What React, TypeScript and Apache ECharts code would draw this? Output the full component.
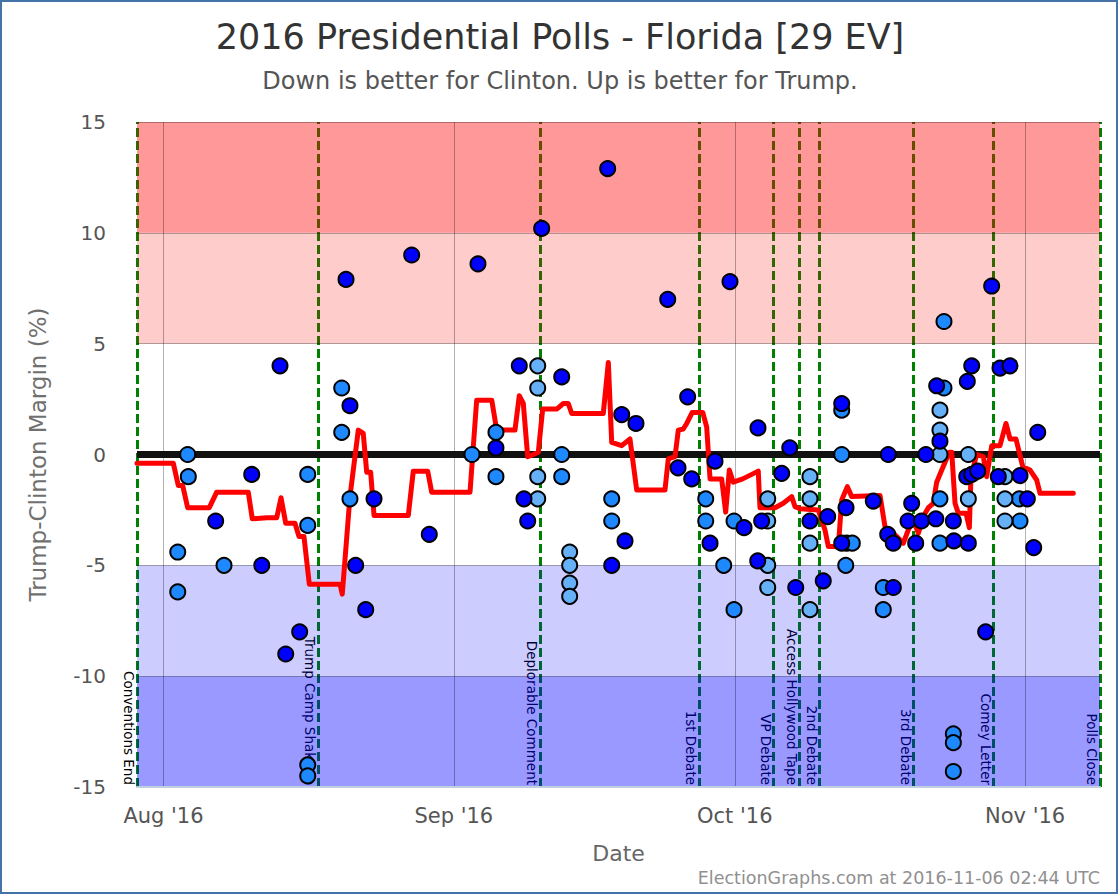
import { useEffect, useRef } from 'react';
import * as echarts from 'echarts';

const FONT = 'DejaVu Sans';
const DAY0 = Date.UTC(2016, 7, 1); // 1 Aug 2016, day offsets below are days after this
const t = (d: number) => DAY0 + d * 86400000;

const titleText = '2016 Presidential Polls - Florida [29 EV]';
const subtitleText = 'Down is better for Clinton. Up is better for Trump.';
const creditText = 'ElectionGraphs.com at 2016-11-06 02:44 UTC';

const monthTickDays = [0, 31, 61, 92];
const monthLabels = ["Aug '16", "Sep '16", "Oct '16", "Nov '16"];
const axisStartDay = -2.83;
const axisEndDay = 100;

const eventNames = ['Conventions End', 'Trump Camp Shakeup', 'Deplorable Comment', '1st Debate', 'VP Debate', 'Access Hollywood Tape', '2nd Debate', '3rd Debate', 'Comey Letter', 'Polls Close'];
const eventDays = [-2.83, 16.5, 40.2, 57.16, 65.16, 67.93, 70.07, 80.11, 88.65, 100];

const bandRanges = [[10, 15], [5, 10], [-10, -5], [-15, -10]];
const bandColors = ['rgba(255,0,0,0.4)', 'rgba(255,0,0,0.2)', 'rgba(0,0,255,0.2)', 'rgba(0,0,255,0.4)'];

// [day after Aug 1, Trump-Clinton margin]
const darkPolls = [
  [12.44, 4], [5.57, -3], [9.42, -0.9], [10.49, -5], [14.54, -8], [13.05, -9], [19.49, 7.9], [19.91, 2.2],
  [22.48, -2], [20.52, -5], [21.59, -7], [26.5, 9], [28.38, -3.6], [33.58, 8.6], [35.5, 0.3], [37.99, 4],
  [38.49, -2], [38.89, -3], [40.38, 10.2], [42.52, 3.5], [47.43, 12.9], [47.86, -5], [48.93, 1.8], [49.28, -3.9],
  [50.45, 1.4], [53.84, 7], [55.97, 2.6], [54.94, -0.6], [56.4, -1.1], [58.89, -0.3], [58.36, -4], [60.49, 7.8],
  [61.99, -3.3], [63.48, 1.2], [63.87, -3], [63.45, -4.8], [66.01, -0.85], [66.87, 0.3], [67.51, -6], [69.03, -3],
  [70.92, -2.8], [70.45, -5.7], [72.42, 2.3], [72.88, -2.4], [72.42, -4], [75.79, -2.1], [77.33, -3.6], [77.93, -4],
  [77.93, -6], [77.39, 0], [79.89, -2.2], [79.5, -3], [80.94, -3], [80.32, -4], [81.41, 0], [82.56, 3.1],
  [82.91, 0.6], [82.47, -2.9], [84.34, -3], [84.4, -3.9], [85.83, 3.3], [86.3, 4], [85.77, -1], [86.3, -0.9],
  [86.94, -0.75], [85.94, -4], [87.79, -8], [88.43, 7.6], [89.32, 3.9], [90.39, 4], [89.14, -1], [91.46, -0.95],
  [92.24, -2], [92.92, -4.2], [93.35, 1],
];
const mediumPolls = [
  [2.58, 0], [2.65, -1], [1.52, -4.4], [1.52, -6.2], [6.46, -5], [15.4, -0.9], [15.4, -3.2], [15.4, -14],
  [15.4, -14.5], [19.03, 3], [19.03, 1], [19.91, -2], [32.94, 0], [35.5, 1], [35.5, -1], [42.52, 0],
  [42.52, -1], [47.86, -2], [47.86, -3], [57.9, -2], [57.9, -3], [59.82, -5], [60.92, -3], [60.92, -7],
  [72.42, 2], [72.42, 0], [72.95, -4], [73.55, -4], [72.85, -5], [76.86, -6], [76.86, -7], [83.34, 3],
  [83.34, 6], [82.91, -2], [82.91, -4], [84.34, -12.6], [84.34, -13], [84.34, -14.3], [91.38, -2], [91.46, -3],
];
const lightPolls = [
  [39.96, 4], [39.96, 3], [39.96, -1], [39.96, -2], [43.37, -4.4], [43.37, -5], [43.37, -5.8], [43.37, -6.4],
  [64.52, -2], [64.52, -3], [64.52, -5], [64.52, -6], [69.03, -1], [69.03, -2], [69.03, -4], [69.03, -7],
  [82.91, 2], [82.91, 1.1], [82.91, 0], [85.94, 0], [85.94, -2], [89.85, -1], [89.85, -2], [89.85, -3],
];
const averageLine = [
  [-2.83, -0.4], [1.05, -0.4], [1.58, -1.4], [2.05, -1.4], [2.58, -2.4], [4.89, -2.4], [5.68, -1.7], [9.05, -1.7],
  [9.48, -2.9], [11.02, -2.85], [12.09, -2.85], [12.55, -1.95], [13.05, -3.1], [14.04, -3.1], [14.47, -3.7], [15.0, -3.7],
  [15.57, -5.85], [18.85, -5.85], [19.09, -6.3], [19.91, -1.9], [20.8, 1.1], [21.33, 0.95], [21.7, -0.8], [22.12, -0.8],
  [22.48, -2.75], [26.14, -2.75], [26.67, -0.75], [28.21, -0.75], [28.64, -1.7], [32.73, -1.7], [33.44, 2.45], [35.05, 2.45],
  [35.58, 1.1], [37.53, 1.1], [37.99, 2.65], [38.42, 2.3], [38.89, -0.1], [39.49, 0], [40.02, 0.1], [40.49, 2.05],
  [41.99, 2.05], [42.69, 2.3], [43.22, 2.3], [43.59, 1.85], [46.96, 1.85], [47.5, 4.15], [47.86, 0.55], [48.93, 0.4],
  [49.81, 0.7], [50.53, -1.6], [53.55, -1.6], [53.9, -0.2], [54.62, -0.1], [54.97, 1.1], [55.5, 1.15], [55.87, 1.4],
  [56.46, 1.9], [57.58, 1.9], [58.0, 1.25], [58.36, -1.1], [59.6, -1.1], [60.03, -2.6], [60.42, -0.7], [60.84, -1.25],
  [61.85, -1.1], [63.51, -0.75], [63.69, -2.4], [65.3, -2.4], [66.18, -2.2], [67.08, -1.9], [67.43, -2.35], [67.97, -2.45],
  [69.92, -2.5], [70.63, -3.4], [70.99, -4.15], [72.06, -4.15], [72.42, -2.05], [73.02, -1.45], [73.49, -1.9], [76.51, -1.85],
  [77.04, -3.25], [77.58, -3.4], [79.0, -4.0], [79.53, -3.4], [80.06, -2.95], [80.6, -3.55], [81.13, -2.8], [81.67, -2.4],
  [82.2, -2.2], [82.56, -1.25], [83.1, -0.7], [83.91, 0.1], [84.17, 0.1], [84.52, -2.2], [84.87, -2.65], [85.69, -2.65],
  [86.05, -3.3], [86.22, -1.0], [86.83, 0], [87.54, -0.1], [87.9, -1.0], [88.44, 0.4], [89.32, 0.4], [89.96, 1.4],
  [90.39, 0.7], [91.03, 0.7], [91.75, -0.55], [92.53, -0.7], [93.24, -1.15], [93.6, -1.75], [97.15, -1.75],
];

const toPts = (arr: number[][]) => arr.map(([d, v]) => [t(d), v]);

function scatter(name: string, arr: number[][], color: string) {
  return {
    type: 'scatter', name, data: toPts(arr), z: 6, symbol: 'circle', symbolSize: 15,
    itemStyle: { color, borderColor: '#000', borderWidth: 2, opacity: 1 },
    emphasis: { disabled: true }, silent: true,
  };
}

export default function App() {
  const ref = useRef<HTMLDivElement>(null);
  useEffect(() => {
    const chart = echarts.init(ref.current!, null, { renderer: 'svg' });
    const monthVals = monthTickDays.map(t);
    const option: any = {
      animation: false,
      textStyle: { fontFamily: FONT },
      title: {
        text: titleText, subtext: subtitleText, left: 'center', top: 12, itemGap: 10,
        textStyle: { fontSize: 35, fontWeight: 'normal', color: '#333', fontFamily: FONT, lineHeight: 40 },
        subtextStyle: { fontSize: 24, color: '#555', fontFamily: FONT, lineHeight: 28 },
      },
      grid: { left: 137, right: 20, top: 122, bottom: 109, containLabel: false, outerBoundsMode: 'none' },
      xAxis: {
        type: 'value', min: t(axisStartDay), max: t(axisEndDay), z: 3, scale: true,
        axisLine: { show: true, onZero: false, lineStyle: { color: '#C0D0E0', width: 2 } },
        axisTick: { show: false, customValues: monthVals },
        axisLabel: {
          customValues: monthVals, fontSize: 21, color: '#555', margin: 18, fontFamily: FONT,
          formatter: (v: number) => {
            const i = monthVals.findIndex((m) => Math.abs(m - v) < 3600000);
            return i >= 0 ? monthLabels[i] : '';
          },
        },
        splitLine: { show: true, lineStyle: { color: 'rgba(0,0,0,0.3)', width: 1 } },
        name: 'Date', nameLocation: 'middle', nameGap: 55,
        nameTextStyle: { fontSize: 22, color: '#666', fontFamily: FONT },
      },
      yAxis: {
        type: 'value', min: -15, max: 15, interval: 5, z: 3,
        axisLine: { show: false }, axisTick: { show: false },
        axisLabel: { fontSize: 20, color: '#555', margin: 31, fontFamily: FONT },
        splitLine: { show: true, lineStyle: { color: 'rgba(0,0,0,0.3)', width: 1 } },
        name: 'Trump-Clinton Margin (%)', nameLocation: 'middle', nameGap: 88,
        nameTextStyle: { fontSize: 23, color: '#707070', fontFamily: FONT },
      },
      series: [
        {
          type: 'line', name: 'events', data: [], z: 1, silent: true,
          markLine: {
            z: 1, silent: true, symbol: ['none', 'none'], label: { show: false },
            lineStyle: { color: '#008000', width: 3, type: [9, 4] },
            emphasis: { disabled: true },
            data: eventDays.map((d) => ({ xAxis: t(d) })),
          },
        },
        {
          type: 'line', name: 'bands', data: [], z: 2, silent: true,
          markArea: {
            z: 2, silent: true, label: { show: false },
            data: bandRanges.map(([a, b], i) => [
              { yAxis: a, itemStyle: { color: bandColors[i] } },
              { yAxis: b },
            ]),
          },
        },
        {
          type: 'line', name: 'zero', data: [], z: 4, silent: true,
          markLine: {
            z: 4, silent: true, symbol: ['none', 'none'], label: { show: false },
            lineStyle: { color: '#111', width: 7, type: 'solid' },
            emphasis: { disabled: true },
            data: [{ yAxis: 0 }],
          },
        },
        {
          type: 'line', name: 'Average', data: toPts(averageLine), z: 5, silent: true,
          showSymbol: false, symbol: 'none',
          lineStyle: { color: '#ff0000', width: 5, join: 'round', cap: 'round' },
        },
        scatter('Polls (medium)', mediumPolls, '#1e88ff'),
        scatter('Polls (light)', lightPolls, '#66b0f8'),
        scatter('Polls (dark)', darkPolls, '#0000ff'),
      ],
    };
    chart.setOption(option);

    const bottomY = chart.convertToPixel({ gridIndex: 0 }, [t(0), -15])[1];
    const els: any[] = [
      {
        type: 'rect', z: 20, silent: true,
        shape: { x: 1, y: 1, width: 1116, height: 892 },
        style: { fill: 'none', stroke: '#4572A7', lineWidth: 2 },
      },
      {
        type: 'text', z: 20, silent: true, x: 1100, y: 878,
        style: { text: creditText, fontSize: 17.5, fill: '#909090', fontFamily: FONT, align: 'right', verticalAlign: 'middle' },
      },
    ];
    eventDays.forEach((d, i) => {
      const x = chart.convertToPixel({ xAxisIndex: 0 }, t(d)) as number;
      els.push({
        type: 'text', z: 1, silent: true, x: x - 1, y: bottomY - 2, rotation: -Math.PI / 2,
        style: { text: eventNames[i], fontSize: 13.5, fill: '#000', fontFamily: FONT, align: 'right', verticalAlign: 'top' },
      });
    });
    chart.setOption({ graphic: { elements: els } });
    return () => chart.dispose();
  }, []);
  return <div ref={ref} style={{ position: 'absolute', left: 0, top: 0, width: 1120, height: 896 }} />;
}
